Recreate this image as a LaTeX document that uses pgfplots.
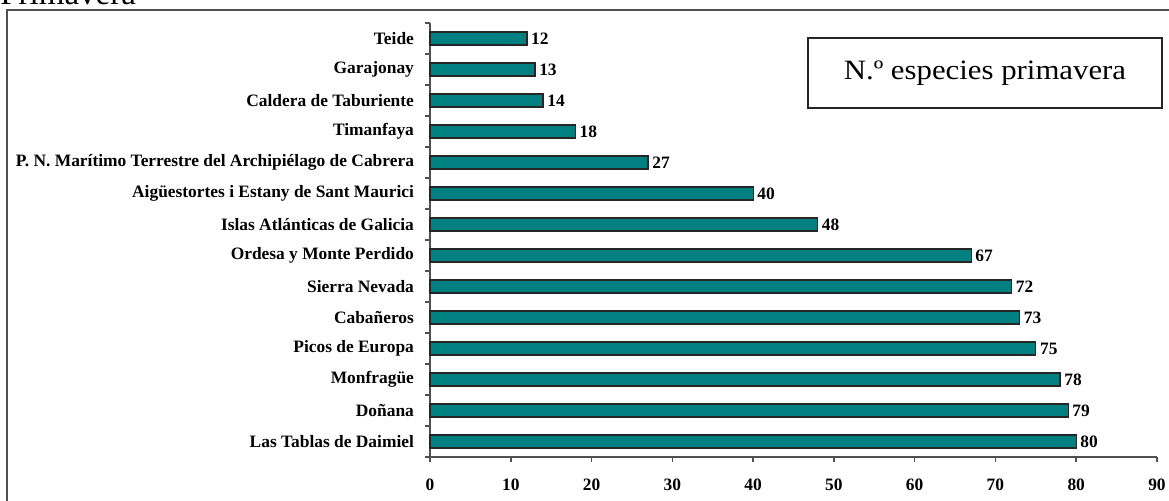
\documentclass[border=0pt]{standalone}
\usepackage{fontspec}
\setmainfont{Liberation Serif}
\usepackage{graphicx}
\usepackage{pgfplots}
\pgfplotsset{compat=1.18}
\usetikzlibrary{calc}
\definecolor{barteal}{RGB}{0,128,128}
\definecolor{axgray}{RGB}{80,80,80}
\begin{document}
\begin{tikzpicture}[x=0.5pt,y=0.5pt]
\begin{axis}[
  name=ax,
  scale only axis, width=363.5pt, height=217pt,
  xbar, bar width=6.5pt,
  xmin=0, xmax=90, ymin=-0.5, ymax=13.5,
  axis x line*=bottom, axis y line*=left,
  axis line style={axgray,line width=0.8pt,-},
  tick style={axgray,line width=0.8pt},
  tick align=outside, major tick length=2.5pt, minor tick length=2.5pt,
  xtick={0,10,...,90},
  ytick={0,...,13},
  minor ytick={-0.5,0.5,...,13.5},
  major y tick style={draw=none},
  minor y tick style={draw=axgray,line width=0.8pt},
  yticklabels={Las Tablas de Daimiel,Doñana,Monfragüe,Picos de Europa,Cabañeros,Sierra Nevada,Ordesa y Monte Perdido,Islas Atlánticas de Galicia,Aigüestortes i Estany de Sant Maurici,P. N. Marítimo Terrestre del Archipiélago de Cabrera,Timanfaya,Caldera de Taburiente,Garajonay,Teide},
  /pgf/number format/assume math mode=true,
  ticklabel style={font=\bfseries\fontsize{8.7}{8.7}\selectfont},
  xticklabel style={yshift=-5pt},
  yticklabel style={xshift=-2pt},
  nodes near coords,
  nodes near coords style={font=\bfseries\fontsize{8.7}{8.7}\selectfont,xshift=-1.5pt},
  clip=false,
]
\addplot[fill=barteal,draw=black!85,line width=0.6pt] coordinates {
  (80,0) (79,1) (78,2) (75,3) (73,4) (72,5) (67,6)
  (48,7) (40,8) (27,9) (18,10) (14,11) (13,12) (12,13)
};
\end{axis}
% page frame: reference pixel (0,501) at lower left
\coordinate (O) at ($(ax.south west)+(-430,-44)$);
\node[anchor=base west,inner sep=0pt,font=\fontsize{16.5}{16.5}\selectfont] at ($(O)+(0,496)$) {Primavera};
\draw[axgray,line width=1pt] ($(O)+(7,-20)$) rectangle ($(O)+(1190,491)$);
\node[draw=black!85,line width=1pt,minimum width=177pt,minimum height=35pt,
      inner sep=0pt,font=\fontsize{14}{14}\selectfont] at ($(O)+(985,428)$) {\scalebox{1.1}[1]{N.º especies primavera}};
\pgfresetboundingbox
\useasboundingbox (O) rectangle ($(O)+(1169,501)$);
\end{tikzpicture}
\end{document}
